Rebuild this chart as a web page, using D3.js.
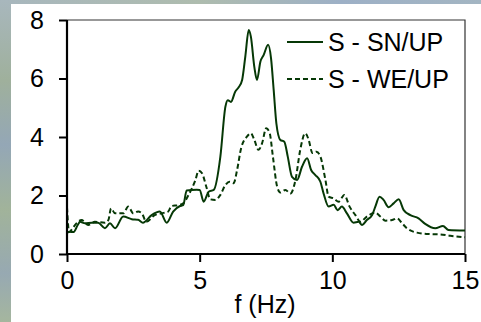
<!DOCTYPE html>
<html>
<head>
<meta charset="utf-8">
<script src="https://cdn.jsdelivr.net/npm/d3@7"></script>
<style>
  body { margin: 0; }
  svg { display: block; font-family: "Liberation Sans", Arial, sans-serif; }
</style>
</head>
<body>
<svg id="chart" width="481" height="322"></svg>
<script>
// S - SN/UP (solid)
const snFreq = [0, 0.1, 0.25, 0.41, 0.49, 0.68, 0.93, 1.17, 1.43, 1.62, 1.81, 2.12, 2.44, 2.68, 2.86, 3.19, 3.5, 3.76, 4.0, 4.26, 4.38, 4.51, 4.89, 5.0, 5.15, 5.34, 5.53, 5.78, 5.97, 6.06, 6.18, 6.34, 6.47, 6.6, 6.72, 6.85, 6.93, 7.06, 7.16, 7.29, 7.41, 7.58, 7.69, 7.79, 7.89, 8.04, 8.19, 8.32, 8.48, 8.67, 8.86, 9.05, 9.2, 9.36, 9.55, 9.67, 9.86, 10.05, 10.2, 10.36, 10.55, 10.8, 10.99, 11.12, 11.3, 11.5, 11.62, 11.78, 11.93, 12.12, 12.31, 12.5, 12.69, 12.94, 13.25, 13.5, 13.88, 14.17, 14.38, 15];
const snVals = [0.72, 0.76, 0.75, 1.0, 1.1, 1.05, 1.07, 1.07, 0.88, 1.05, 0.88, 1.28, 1.19, 1.17, 1.07, 1.33, 1.45, 1.07, 1.45, 1.64, 1.67, 2.17, 2.2, 2.19, 1.79, 2.13, 2.19, 3.33, 5.04, 5.26, 5.2, 5.55, 5.7, 5.95, 6.75, 7.66, 7.43, 6.4, 5.95, 6.58, 6.8, 7.15, 6.69, 5.6, 4.47, 3.9, 3.84, 3.33, 2.64, 2.53, 2.99, 3.27, 2.87, 2.7, 2.47, 2.07, 1.62, 1.68, 1.5, 1.62, 1.39, 1.07, 1.1, 0.99, 1.16, 1.33, 1.62, 1.96, 1.85, 1.6, 1.73, 1.87, 1.5, 1.33, 1.22, 1.03, 0.88, 0.96, 0.82, 0.8];

// S - WE/UP (dashed)
const weFreq = [0, 0.08, 0.19, 0.3, 0.55, 0.8, 1.05, 1.43, 1.56, 1.66, 1.81, 2.12, 2.31, 2.5, 2.68, 2.82, 2.99, 3.31, 3.56, 3.81, 3.94, 4.2, 4.38, 4.57, 4.84, 4.96, 5.09, 5.25, 5.4, 5.59, 5.78, 5.97, 6.13, 6.28, 6.41, 6.56, 6.78, 6.93, 7.06, 7.22, 7.35, 7.51, 7.64, 7.76, 7.92, 8.04, 8.23, 8.42, 8.61, 8.79, 8.98, 9.11, 9.25, 9.4, 9.55, 9.74, 9.86, 10.05, 10.24, 10.45, 10.65, 10.87, 11.06, 11.3, 11.62, 11.81, 12.0, 12.25, 12.44, 12.63, 12.81, 13.19, 13.69, 14.07, 14.45, 15];
const weVals = [1.6, 0.75, 0.85, 0.99, 1.16, 0.99, 1.1, 1.07, 1.16, 1.56, 1.39, 1.39, 1.62, 1.39, 1.45, 1.39, 1.1, 1.33, 1.39, 1.45, 1.64, 1.67, 1.73, 2.0, 2.53, 2.85, 2.76, 2.3, 1.87, 1.85, 2.02, 2.36, 2.47, 2.42, 2.87, 3.61, 4.01, 4.13, 3.9, 3.56, 3.78, 4.3, 4.13, 3.33, 2.3, 2.1, 2.19, 2.07, 2.53, 3.56, 4.13, 3.9, 3.45, 3.5, 3.33, 2.53, 1.96, 1.9, 1.79, 2.02, 1.62, 1.33, 1.1, 1.28, 1.41, 1.28, 1.14, 1.16, 1.22, 1.05, 0.88, 0.73, 0.68, 0.67, 0.62, 0.57];

const xTicks = [0, 5, 10, 15];
const yTicks = [0, 2, 4, 6, 8];
const seriesNames = ["S - SN/UP", "S - WE/UP"];

const svg = d3.select('#chart');
const W = 481, H = 322;
const margin = {left: 67, top: 20, right: 16, bottom: 68};
const lineColor = '#063806';
const fontSize = '25px';

// photo-like backdrop, only visible at the top and left edges
const defs = svg.append('defs');
const grad = defs.append('linearGradient')
  .attr('id', 'bg').attr('x1', 0).attr('y1', 0).attr('x2', 0).attr('y2', 1);
[['0%', '#a8b7bd'], ['25%', '#9fb09c'], ['45%', '#94a7b6'], ['65%', '#a1b39a'], ['85%', '#97a9b2'], ['100%', '#a5b69e']]
  .forEach(s => grad.append('stop').attr('offset', s[0]).attr('stop-color', s[1]));
const gradTop = defs.append('linearGradient')
  .attr('id', 'bgTop').attr('x1', 0).attr('y1', 0).attr('x2', 1).attr('y2', 0);
[['0%', '#a8b7bd'], ['40%', '#aebcae'], ['70%', '#9db0c6'], ['100%', '#a3b5c2']]
  .forEach(s => gradTop.append('stop').attr('offset', s[0]).attr('stop-color', s[1]));

svg.append('rect').attr('width', 11).attr('height', H).attr('fill', 'url(#bg)');
svg.append('rect').attr('x', 11).attr('width', W - 11).attr('height', 4).attr('fill', 'url(#bgTop)');
svg.append('rect').attr('x', 11).attr('y', 4).attr('width', W - 11).attr('height', H - 4).attr('fill', '#fff');

const x = d3.scaleLinear().domain([0, 15]).range([margin.left, W - margin.right]);
const y = d3.scaleLinear().domain([0, 8]).range([H - margin.bottom, margin.top]);

// plot frame (top + right thin)
svg.append('path')
  .attr('d', `M${x(0)},${y(8)}H${x(15)}V${y(0)}`)
  .attr('fill', 'none')
  .attr('stroke', '#333')
  .attr('stroke-width', 1.2);

const line = d3.line()
  .x(d => x(d[0]))
  .y(d => y(d[1]))
  .curve(d3.curveMonotoneX);

svg.append('path')
  .datum(weFreq.map((f, i) => [f, weVals[i]]))
  .attr('d', line)
  .attr('fill', 'none')
  .attr('stroke', lineColor)
  .attr('stroke-width', 2)
  .attr('stroke-dasharray', '5,3');

svg.append('path')
  .datum(snFreq.map((f, i) => [f, snVals[i]]))
  .attr('d', line)
  .attr('fill', 'none')
  .attr('stroke', lineColor)
  .attr('stroke-width', 2);

// axes
const xAxis = svg.append('g')
  .attr('transform', `translate(0,${y(0)})`)
  .call(d3.axisBottom(x).tickValues(xTicks).tickSize(8).tickPadding(9).tickFormat(d3.format('d')));
const yAxis = svg.append('g')
  .attr('transform', `translate(${x(0)},0)`)
  .call(d3.axisLeft(y).tickValues(yTicks).tickSize(8).tickPadding(15).tickFormat(d3.format('d')));

[xAxis, yAxis].forEach(g => {
  g.select('.domain').attr('stroke', '#000').attr('stroke-width', 2.2);
  g.selectAll('.tick line').attr('stroke', '#000').attr('stroke-width', 2);
  g.selectAll('.tick text').attr('fill', '#000').style('font-size', fontSize)
    .style('font-family', '"Liberation Sans", Arial, sans-serif');
});
yAxis.select('.domain').attr('d', `M0,${y(0)}V${y(8)}`);
xAxis.select('.domain').attr('d', `M${x(0)},0H${x(15)}`);

svg.append('text')
  .attr('x', 265).attr('y', 313)
  .attr('text-anchor', 'middle')
  .style('font-size', fontSize)
  .text('f (Hz)');

// legend
const legend = svg.append('g');
seriesNames.forEach((name, i) => {
  const ly = 42 + i * 37;
  legend.append('line')
    .attr('x1', 287).attr('x2', 323).attr('y1', ly).attr('y2', ly)
    .attr('stroke', lineColor).attr('stroke-width', 2)
    .attr('stroke-dasharray', i === 1 ? '5,3' : null);
  legend.append('text')
    .attr('x', 328).attr('y', ly + 9)
    .style('font-size', fontSize)
    .text(name);
});
</script>
</body>
</html>
